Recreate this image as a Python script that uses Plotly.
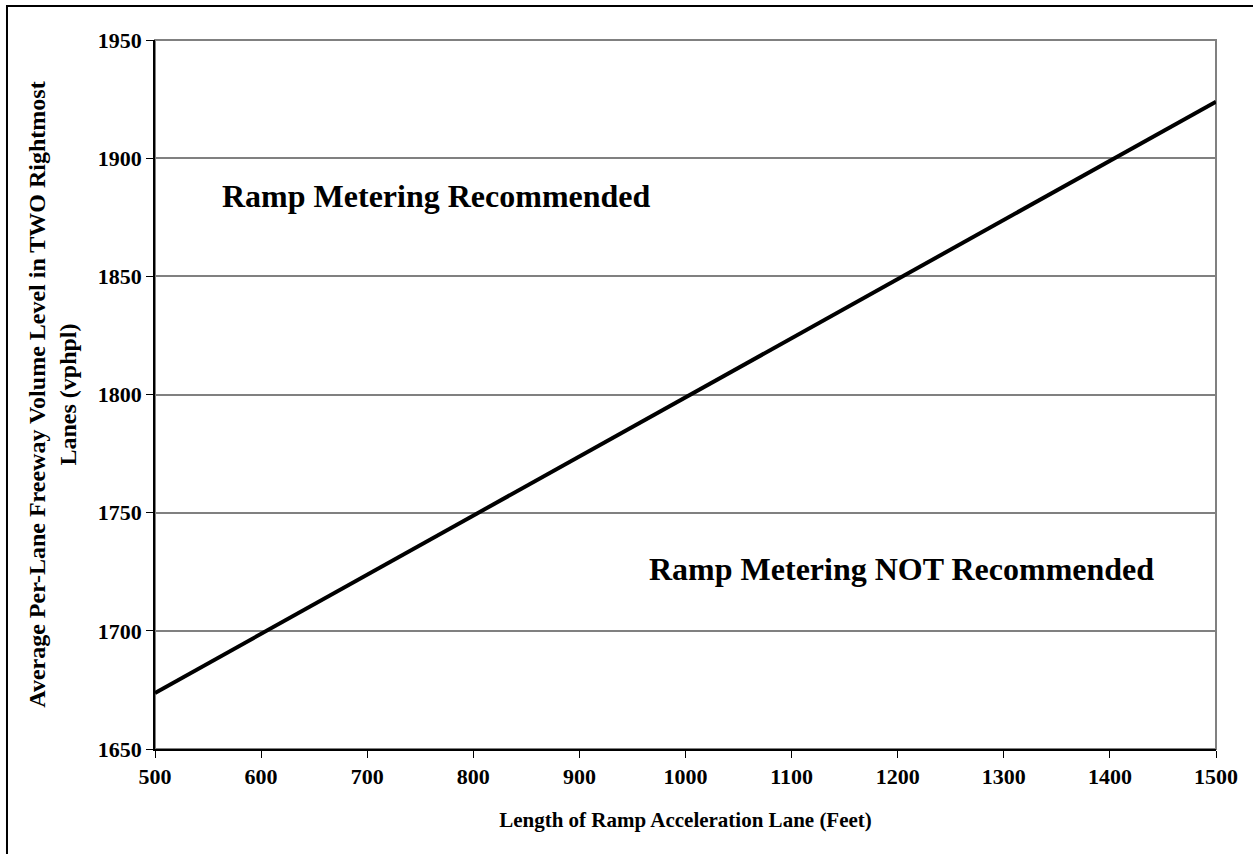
import plotly.graph_objects as go

# data
ramp_length = [500, 1500]
volume_threshold = [1673.7, 1923.9]
x_ticks = [500, 600, 700, 800, 900, 1000, 1100, 1200, 1300, 1400, 1500]
y_ticks = [1650, 1700, 1750, 1800, 1850, 1900, 1950]

font_family = "Liberation Serif, Times New Roman, serif"

fig = go.Figure()

fig.add_trace(go.Scatter(
    x=ramp_length,
    y=volume_threshold,
    mode='lines',
    line=dict(color='black', width=4),
    showlegend=False,
    hoverinfo='skip',
))

fig.add_annotation(x=765, y=1884, text="<b>Ramp Metering Recommended</b>",
                   showarrow=False, font=dict(size=32, color='black', family=font_family))
fig.add_annotation(x=1204, y=1726, text="<b>Ramp Metering NOT Recommended</b>",
                   showarrow=False, font=dict(size=32, color='black', family=font_family))

# gray border around plot area (top/right visible)
fig.add_shape(type='rect', xref='x domain', yref='y domain', x0=0, y0=0, x1=1, y1=1,
              line=dict(color='#808080', width=2), layer='below')
# outer frame of the chart object
fig.add_shape(type='rect', xref='paper', yref='paper', x0=-0.1395, y0=-0.2, x1=1.1, y1=1.048,
              line=dict(color='black', width=2))

fig.update_layout(
    width=1253, height=854,
    margin=dict(l=155, r=37, t=40, b=105),
    paper_bgcolor='white',
    plot_bgcolor='white',
    font=dict(family=font_family, color='black'),
    xaxis=dict(
        range=[500, 1500],
        tickvals=x_ticks,
        ticktext=[f"<b>{v}</b>" for v in x_ticks],
        tickfont=dict(size=22),
        ticks='outside', ticklen=7, tickcolor='black',
        showline=True, linecolor='black', linewidth=1.5,
        showgrid=False, zeroline=False,
        title=dict(text="<b>Length of Ramp Acceleration Lane (Feet)</b>", font=dict(size=21), standoff=24),
    ),
    yaxis=dict(
        range=[1650, 1950],
        tickvals=y_ticks,
        ticktext=[f"<b>{v}</b>" for v in y_ticks],
        tickfont=dict(size=22),
        ticks='outside', ticklen=7, tickcolor='black',
        showline=True, linecolor='black', linewidth=1.5,
        showgrid=True, gridcolor='#808080', gridwidth=1.5,
        zeroline=False,
        title=dict(text="<b>Average Per-Lane Freeway Volume Level in TWO Rightmost<br>Lanes (vphpl)</b>",
                   font=dict(size=24), standoff=14),
    ),
)

fig.write_html("out.html", config={'displayModeBar': False},
               post_script="document.body.style.margin='0px';")
